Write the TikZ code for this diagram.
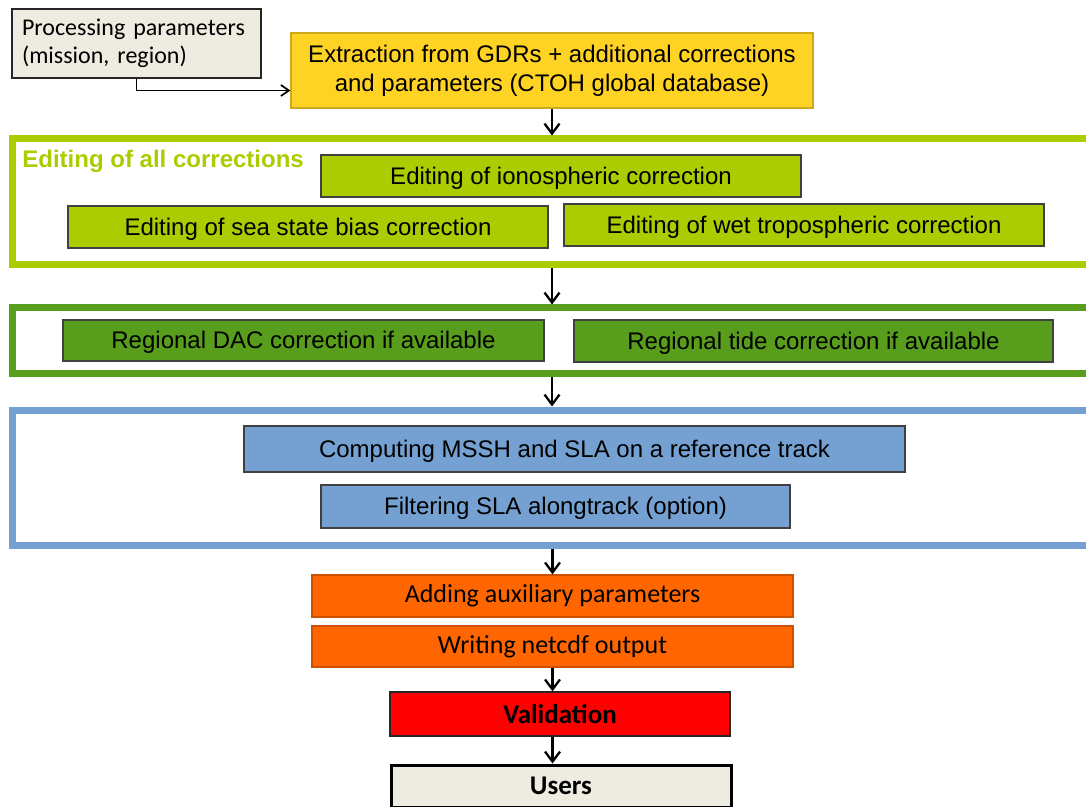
\documentclass[tikz,border=0pt]{standalone}
\usepackage{fontspec}
\setmainfont{Liberation Sans}
\newfontfamily\calfont{Carlito}
\usetikzlibrary{arrows.meta}
\definecolor{beige}{HTML}{EEECE1}
\definecolor{gold}{HTML}{FFD324}
\definecolor{lgreen}{HTML}{AACC00}
\definecolor{dgreen}{HTML}{589E1C}
\definecolor{lblue}{HTML}{74A1D1}
\definecolor{orng}{HTML}{FF6600}
\definecolor{boxline}{HTML}{404040}
\begin{document}
\begin{tikzpicture}[x=0.5pt,y=-0.5pt,
  bx/.style={draw=boxline, line width=0.6pt, inner sep=0pt, align=center, font=\fontsize{12}{14.5}\selectfont},
  one/.style={text height=10.86pt, text depth=2.54pt},
  frame/.style={line width=3.5pt, anchor=north west, minimum width=544pt, inner sep=0pt},
  arr/.style={line width=1.15pt, -{Straight Barb[length=5pt,width=7.5pt,line width=1.15pt]}},
  arrthin/.style={line width=0.85pt, -{Straight Barb[length=4pt,width=5.5pt,line width=0.85pt]}}]
\clip (0,0) rectangle (1086,807);
\useasboundingbox (0,0) rectangle (1086,807);
% top boxes
\node[bx, fill=beige, draw=black!85, minimum height=34.5pt, inner xsep=5pt, text width=114.5pt, align=left,
  font=\calfont\fontsize{12}{14}\selectfont] (proc) at (136.5,43.5) {Processing parameters\\(mission, region)};
\node[bx, fill=gold, draw=gold!80!black, minimum width=261pt, minimum height=37.5pt] (extr) at (552,70.5)
  {Extraction from GDRs + additional corrections\\and parameters (CTOH global database)};
% frames
\node[frame, draw=lgreen, minimum height=63pt] (f1) at (8.5,135.5) {};
\node[frame, draw=dgreen, minimum height=33pt] (f2) at (8.5,304.5) {};
\node[frame, draw=lblue, minimum height=67.5pt] (f3) at (8.5,406.5) {};
\node[anchor=base west, font=\bfseries\fontsize{12}{14}\selectfont, text=lgreen, inner sep=0pt] (lab1) at (22,168) {Editing of all corrections};
% frame 1 boxes
\node[bx, one, fill=lgreen, minimum width=240pt, minimum height=21pt] (iono) at (561,176) {Editing of ionospheric correction};
\node[bx, one, fill=lgreen, minimum width=240pt, minimum height=21pt] (ssb) at (308,227) {Editing of sea state bias correction};
\node[bx, one, fill=lgreen, minimum width=240pt, minimum height=21pt] (wet) at (804,225) {Editing of wet tropospheric correction};
% frame 2 boxes
\node[bx, one, fill=dgreen, minimum width=240.5pt, minimum height=20.5pt] (dac) at (303.5,340.5) {Regional DAC correction if available};
\node[bx, one, fill=dgreen, minimum width=239.5pt, minimum height=21pt] (tide) at (813.5,341) {Regional tide correction if available};
% frame 3 boxes
\node[bx, one, fill=lblue, minimum width=330.5pt, minimum height=23pt] (mssh) at (574.5,449) {Computing MSSH and SLA on a reference track};
\node[bx, one, fill=lblue, minimum width=234.5pt, minimum height=21.5pt] (filt) at (555.5,506.5) {Filtering SLA alongtrack (option)};
% lower chain
\node[bx, fill=orng, draw=orng!80!black, minimum width=240.5pt, minimum height=21pt, font=\calfont\fontsize{13}{15}\selectfont] (aux) at (552.5,596) {Adding auxiliary parameters};
\node[bx, fill=orng, draw=orng!80!black, minimum width=240.5pt, minimum height=20.5pt, font=\calfont\fontsize{13}{15}\selectfont] (nc) at (552.5,646.5) {Writing netcdf output};
\node[bx, fill=red, draw=black!85, minimum width=170pt, minimum height=22pt, font=\calfont\bfseries\fontsize{13.5}{15}\selectfont] (valid) at (560,714) {Validation};
\node[bx, fill=beige, draw=black, line width=1.5pt, minimum width=170pt, minimum height=21pt, font=\calfont\bfseries\fontsize{13.5}{15}\selectfont] (users) at (561,786) {Users};
% connectors
\draw[arrthin] (proc.south) |- ([yshift=-10pt]extr.west);
\draw[arr] (extr.south) -- (extr.south |- f1.north);
\draw[arr] (f1.south -| extr.south) -- (f2.north -| extr.south);
\draw[arr] (f2.south -| extr.south) -- (f3.north -| extr.south);
\draw[arr] (f3.south -| aux.north) -- (aux.north);
\draw[arr] (nc.south) -- (nc.south |- valid.north);
\draw[arr] (valid.south -| nc.south) -- (users.north -| nc.south);
\end{tikzpicture}
\end{document}
